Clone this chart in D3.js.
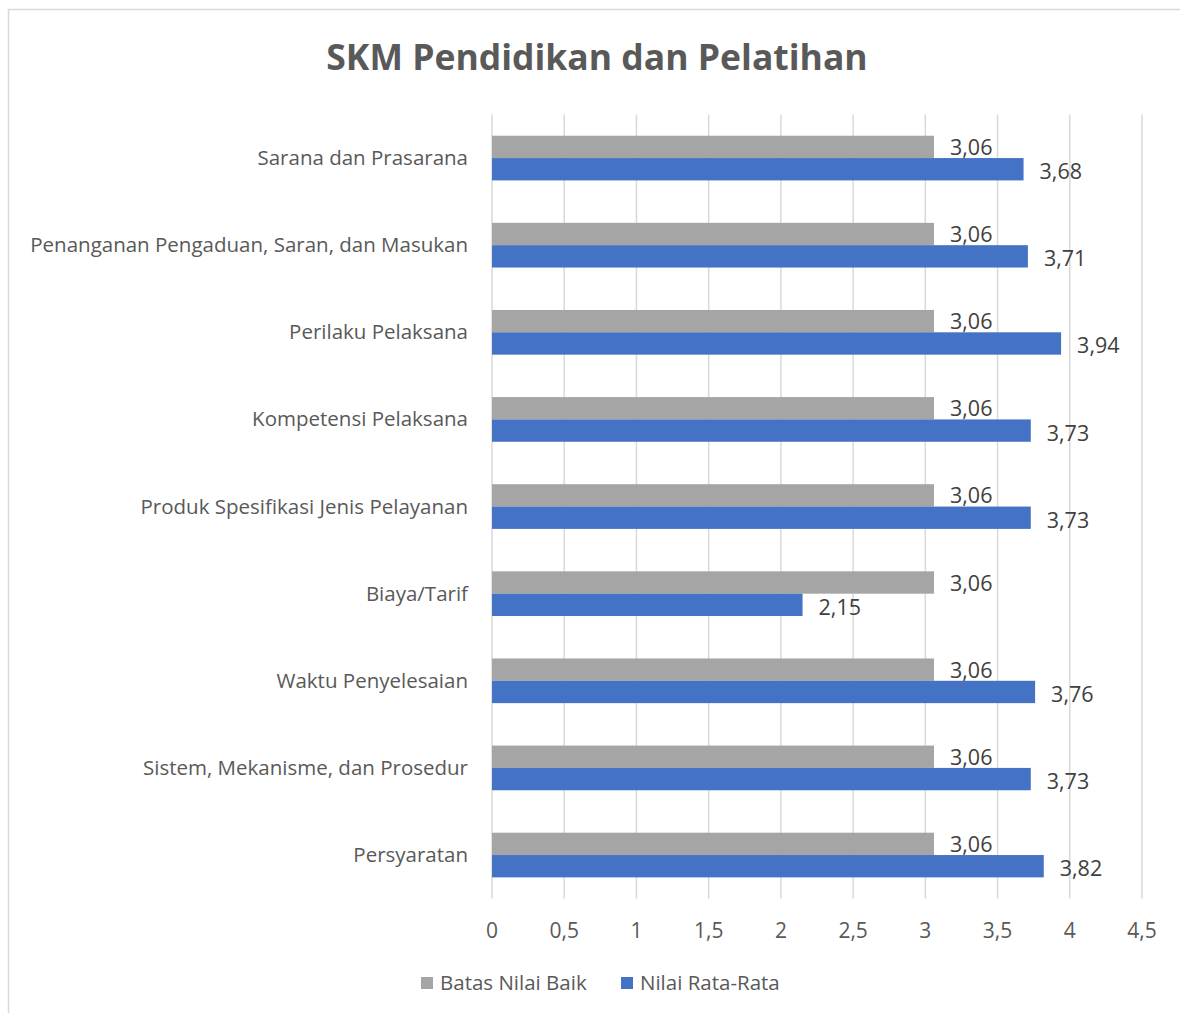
<!DOCTYPE html>
<html>
<head>
<meta charset="utf-8">
<script src="https://cdn.jsdelivr.net/npm/d3@7"></script>
<style>
  body { margin: 0; background: #fff; }
  text { font-family: "Open Sans", "Noto Sans", sans-serif; }
</style>
</head>
<body>
<svg id="chart" width="1180" height="1013"></svg>
<script>
// categories top to bottom
const categories = [
  "Sarana dan Prasarana",
  "Penanganan Pengaduan, Saran, dan Masukan",
  "Perilaku Pelaksana",
  "Kompetensi Pelaksana",
  "Produk Spesifikasi Jenis Pelayanan",
  "Biaya/Tarif",
  "Waktu Penyelesaian",
  "Sistem, Mekanisme, dan Prosedur",
  "Persyaratan"
];
const seriesNames = ["Batas Nilai Baik", "Nilai Rata-Rata"];
const batasValues = [3.06, 3.06, 3.06, 3.06, 3.06, 3.06, 3.06, 3.06, 3.06];
const rataValues = [3.68, 3.71, 3.94, 3.73, 3.73, 2.15, 3.76, 3.73, 3.82];
const tickValues = [0, 0.5, 1, 1.5, 2, 2.5, 3, 3.5, 4, 4.5];

const colors = ["#A5A5A5", "#4472C4"];
const fmt = v => String(v).replace(".", ",");

const svg = d3.select("#chart");

svg.append("rect")
    .attr("x", 0).attr("y", 0)
    .attr("width", 1180).attr("height", 1013)
    .attr("fill", "#fff");

// outer chart border
svg.append("rect")
    .attr("x", 8.5).attr("y", 9.5)
    .attr("width", 1200).attr("height", 1100)
    .attr("fill", "none")
    .attr("stroke", "#d9d9d9")
    .attr("stroke-width", 1.5);

svg.append("text")
    .attr("x", 597)
    .attr("y", 70)
    .attr("text-anchor", "middle")
    .style("font-size", "35.5px")
    .style("font-weight", "bold")
    .style("fill", "#595959")
    .text("SKM Pendidikan dan Pelatihan");

const x = d3.scaleLinear().domain([0, 4.5]).range([492, 1142]);
const y = d3.scaleBand().domain(categories).range([114.5, 898.6]);
const groupH = y.bandwidth() / 1.95;
const inner = d3.scaleBand().domain([0, 1]).range([0, groupH]);

// gridlines
svg.append("g").selectAll("line")
    .data(tickValues)
    .join("line")
    .attr("x1", d => x(d)).attr("x2", d => x(d))
    .attr("y1", 114.5).attr("y2", 898.6)
    .attr("stroke", "#d9d9d9")
    .attr("stroke-width", 1.5);

// tick labels
svg.append("g").selectAll("text")
    .data(tickValues)
    .join("text")
    .attr("x", d => x(d))
    .attr("y", 938)
    .attr("text-anchor", "middle")
    .style("font-size", "21px")
    .style("fill", "#595959")
    .text(d => fmt(d));

// category labels
svg.append("g").selectAll("text")
    .data(categories)
    .join("text")
    .attr("x", 468)
    .attr("y", d => y(d) + y.bandwidth() / 2 + 7)
    .attr("text-anchor", "end")
    .style("font-size", "20.5px")
    .style("fill", "#595959")
    .text(d => d);

const rows = categories.map((c, i) => ({ cat: c, vals: [batasValues[i], rataValues[i]] }));
const barData = [];
rows.forEach(r => r.vals.forEach((v, s) => barData.push({ cat: r.cat, s: s, v: v })));

const barY = d => y(d.cat) + (y.bandwidth() - groupH) / 2 + inner(d.s);

svg.append("g").selectAll("rect")
    .data(barData)
    .join("rect")
    .attr("x", x(0))
    .attr("y", d => barY(d))
    .attr("width", d => x(d.v) - x(0))
    .attr("height", inner.bandwidth())
    .attr("fill", d => colors[d.s]);

svg.append("g").selectAll("text")
    .data(barData)
    .join("text")
    .attr("x", d => x(d.v) + 16)
    .attr("y", d => barY(d) + inner.bandwidth() / 2 + 8 + (d.s === 1 ? 2 : 0))
    .style("font-size", "21.5px")
    .style("fill", "#404040")
    .text(d => fmt(d.v));

// legend
const legend = svg.append("g");
const legendX = [421, 621];
seriesNames.forEach((n, i) => {
  legend.append("rect")
      .attr("x", legendX[i]).attr("y", 977)
      .attr("width", 12).attr("height", 12)
      .attr("fill", colors[i]);
  legend.append("text")
      .attr("x", legendX[i] + 19)
      .attr("y", 990)
      .style("font-size", "20.5px")
      .style("fill", "#595959")
      .text(n);
});
</script>
</body>
</html>
